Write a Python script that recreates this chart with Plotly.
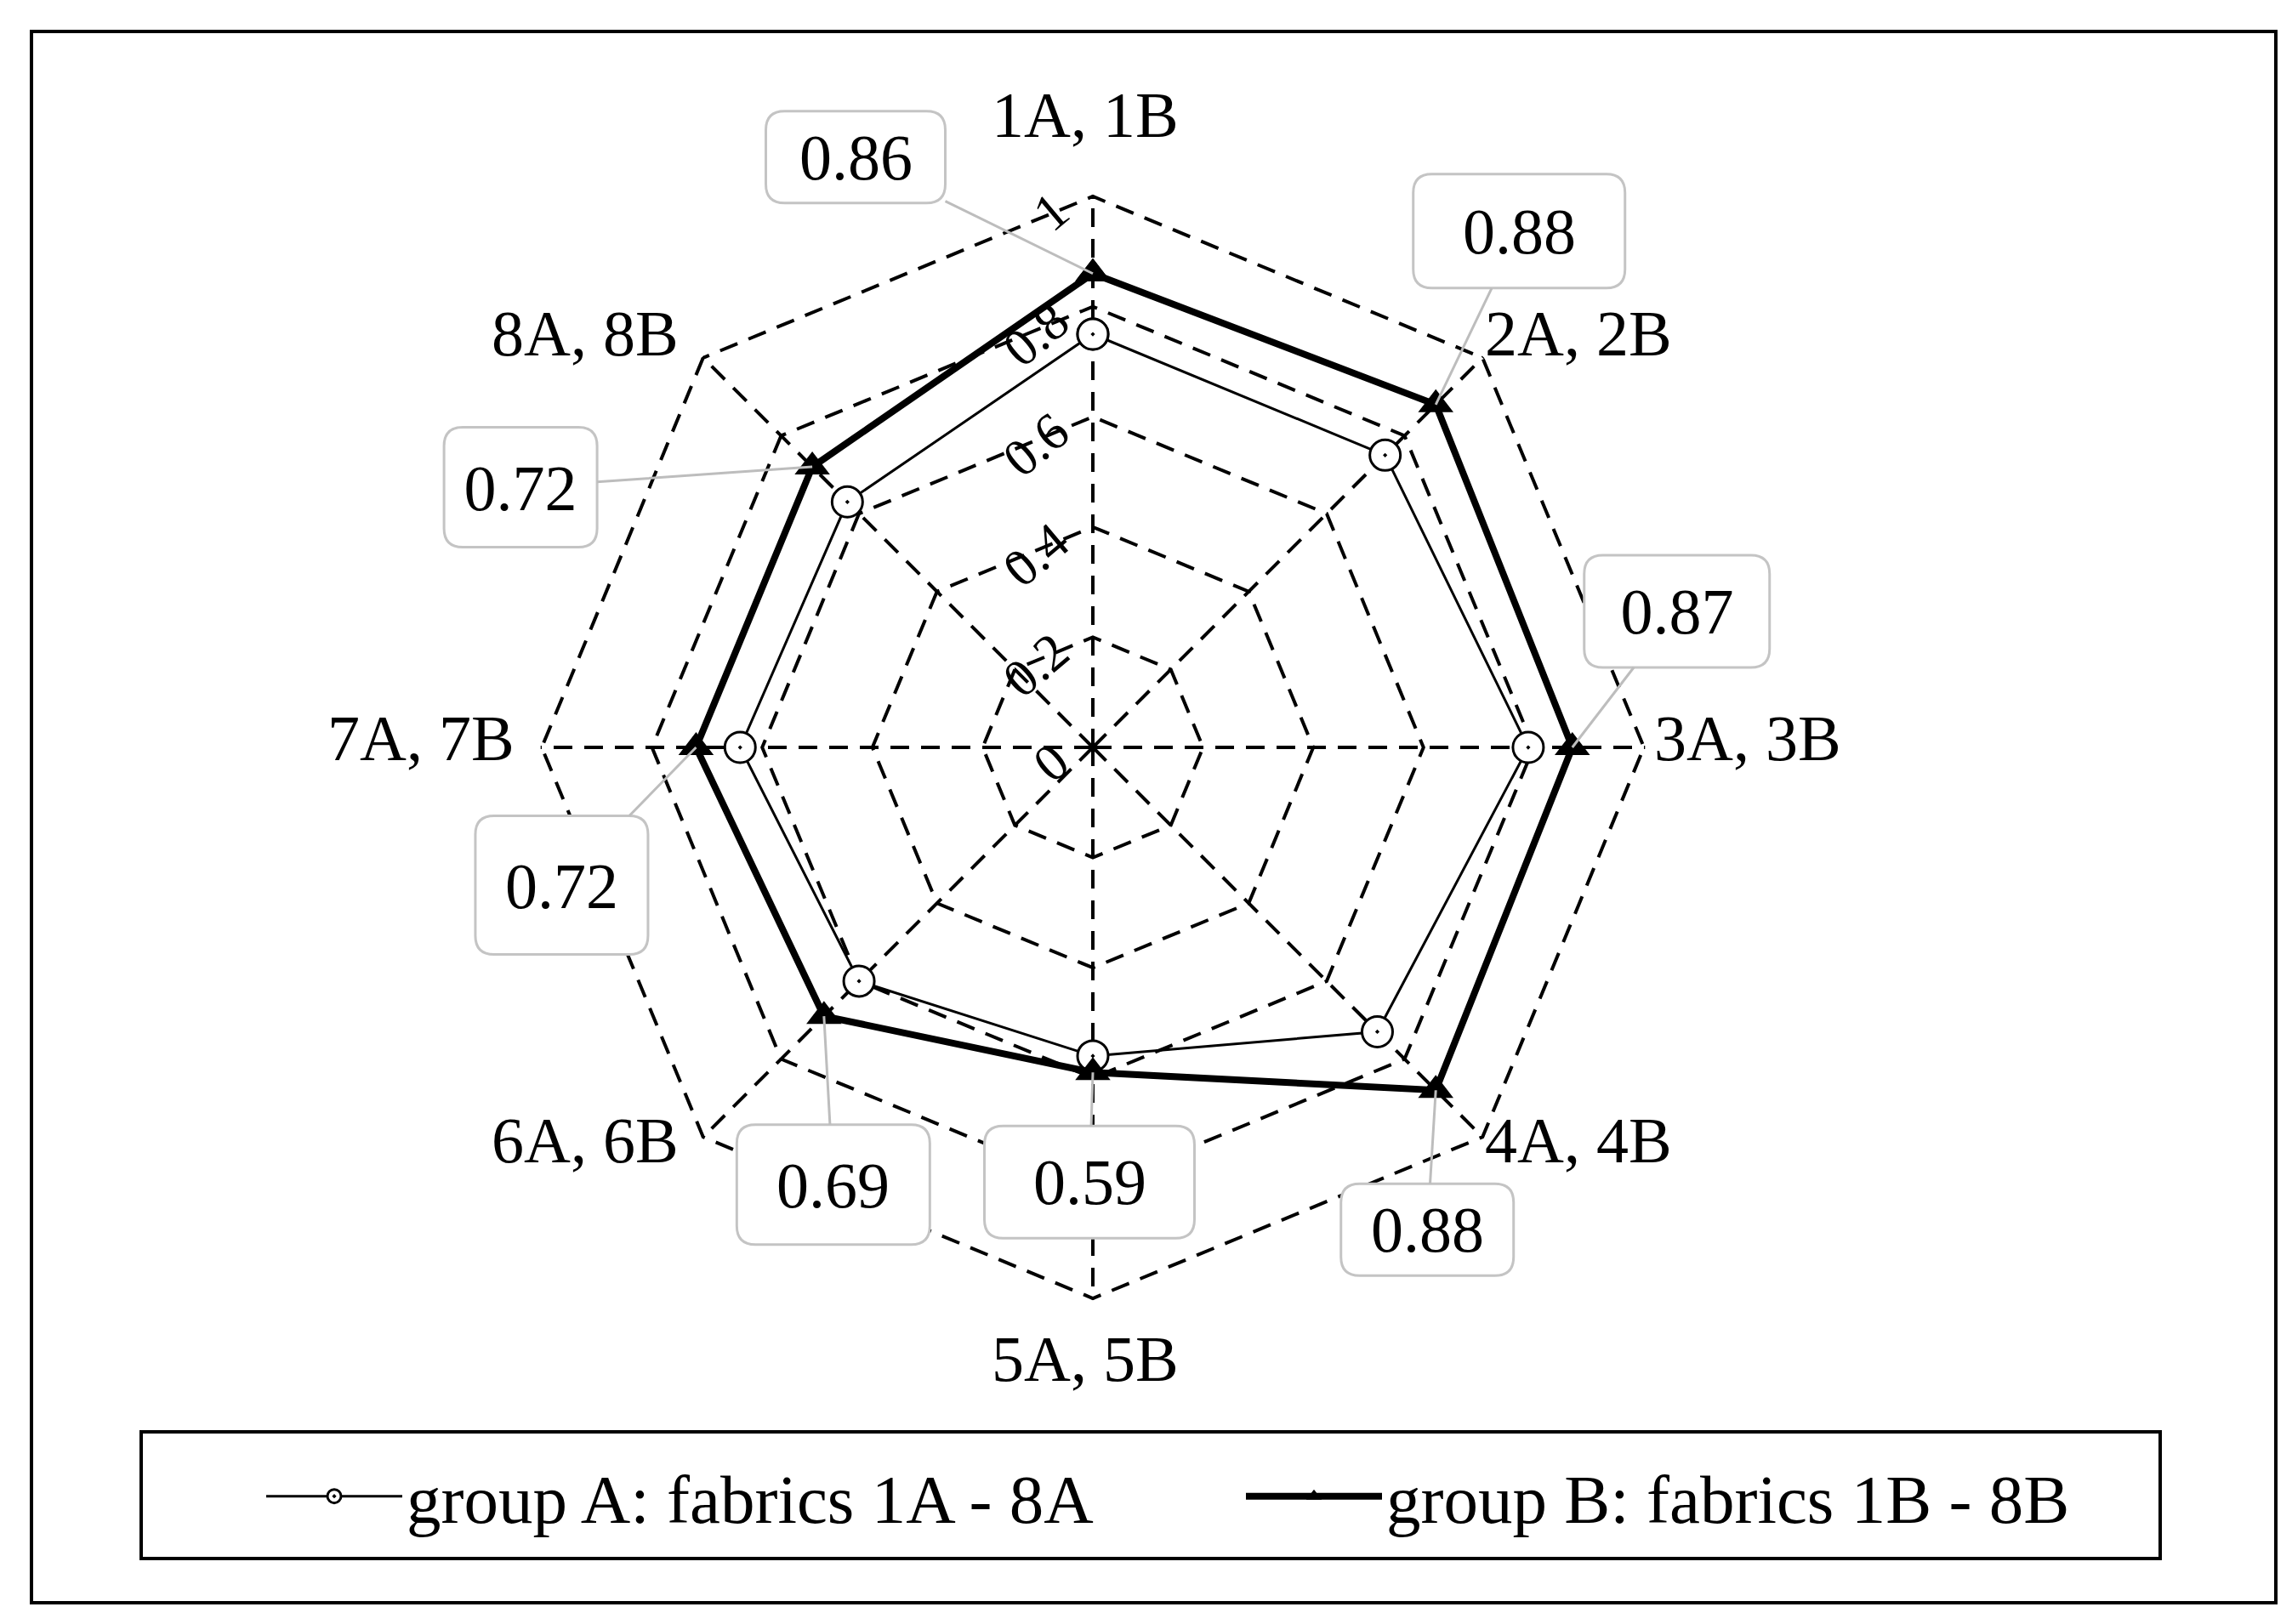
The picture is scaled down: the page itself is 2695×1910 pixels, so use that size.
import math
import plotly.graph_objects as go

# ---- data ----
categories = ["1A, 1B", "2A, 2B", "3A, 3B", "4A, 4B", "5A, 5B", "6A, 6B", "7A, 7B", "8A, 8B"]
group_a = [0.75, 0.75, 0.79, 0.73, 0.56, 0.60, 0.64, 0.63]
group_b = [0.86, 0.88, 0.87, 0.88, 0.59, 0.69, 0.72, 0.72]
label_texts = ["0.86", "0.88", "0.87", "0.88", "0.59", "0.69", "0.72", "0.72"]
radial_ticks = [0, 0.2, 0.4, 0.6, 0.8, 1]
radial_ticktext = ["0", "0.2", "0.4", "0.6", "0.8", "1"]
name_a = "group A: fabrics 1A - 8A"
name_b = "group B: fabrics 1B - 8B"

# ---- styling / layout ----
W, H = 2695, 1910
FONT = "Liberation Serif"
FS = 76
RMAX = 1.002
cx, cy = 1277, 871
R = 648 * RMAX
dom_x = [(cx - R) / W, (cx + R) / W]
dom_y = [(H - cy - R) / H, (H - cy + R) / H]

# category label centres (pixels) around the chart
cat_label_pos = [(1268, 127), (1848, 384), (2047, 860), (1848, 1333),
                 (1268, 1590), (680, 1333), (487, 860), (680, 384)]

# callout boxes: pixel offsets of box centre from point, and box size
callout_offsets = [(-279, -137), (98, -204), (123, -160), (-10, 164),
                   (-4, 129), (11, 198), (-158, 162), (-343, 24)]
callout_sizes = [(211, 108), (249, 134), (218, 132), (203, 108),
                 (247, 132), (227, 141), (203, 163), (180, 141)]
CORNER = 22

fig = go.Figure()
fig.add_trace(go.Scatterpolar(
    r=group_a + group_a[:1], theta=categories + categories[:1],
    mode="lines+markers", name=name_a,
    line=dict(color="black", width=3),
    marker=dict(symbol="circle-dot", size=36, color="white",
                line=dict(color="black", width=3)),
))
fig.add_trace(go.Scatterpolar(
    r=group_b + group_b[:1], theta=categories + categories[:1],
    mode="lines+markers", name=name_b,
    line=dict(color="black", width=8),
    marker=dict(symbol="triangle-up", size=36, color="black"),
))


def rounded_rect_path(x0, y0, x1, y1, rad):
    # pixel coords (y down) -> paper coords path
    def p(x, y):
        return f"{x / W:.5f},{(H - y) / H:.5f}"
    return (f"M {p(x0 + rad, y0)} L {p(x1 - rad, y0)} Q {p(x1, y0)} {p(x1, y0 + rad)} "
            f"L {p(x1, y1 - rad)} Q {p(x1, y1)} {p(x1 - rad, y1)} "
            f"L {p(x0 + rad, y1)} Q {p(x0, y1)} {p(x0, y1 - rad)} "
            f"L {p(x0, y0 + rad)} Q {p(x0, y0)} {p(x0 + rad, y0)} Z")


n = len(categories)
annotations = []
shapes = [
    dict(type="rect", xref="paper", yref="paper",
         x0=29 / W, x1=2668 / W, y0=(H - 1877) / H, y1=(H - 29) / H,
         line=dict(color="black", width=4), layer="below"),
    dict(type="rect", xref="paper", yref="paper",
         x0=158 / W, x1=2532 / W, y0=(H - 1825) / H, y1=(H - 1676) / H,
         line=dict(color="black", width=4), layer="below"),
]

for i, (val, txt) in enumerate(zip(group_b, label_texts)):
    ang = 2 * math.pi * i / n
    x = val * math.sin(ang)
    y = val * math.cos(ang)
    ox, oy = callout_offsets[i]
    bw, bh = callout_sizes[i]
    # point pixel position through the same linear mapping as the overlay axes
    px = cx + x / RMAX * R
    py = cy - y / RMAX * R
    bx, by = px + ox, py + oy
    shapes.append(dict(
        type="path", xref="paper", yref="paper", layer="above",
        path=rounded_rect_path(bx - bw / 2, by - bh / 2, bx + bw / 2, by + bh / 2, CORNER),
        fillcolor="white", line=dict(color="#c4c4c4", width=3),
    ))
    annotations.append(dict(
        x=x, y=y, xref="x", yref="y", ax=ox, ay=oy, axref="pixel", ayref="pixel",
        text=txt, showarrow=True, arrowhead=0, arrowwidth=3, arrowcolor="#bdbdbd",
        standoff=0, startstandoff=0,
        bgcolor="rgba(0,0,0,0)", bordercolor="rgba(0,0,0,0)", borderwidth=0, borderpad=0,
        width=bw, height=bh,
        font=dict(family=FONT, size=FS, color="black"),
    ))

for i, cat in enumerate(categories):
    lx, ly = cat_label_pos[i]
    annotations.append(dict(
        x=lx / W, y=(H - ly) / H, xref="paper", yref="paper",
        text=cat, showarrow=False, xanchor="center", yanchor="middle",
        font=dict(family=FONT, size=FS, color="black"),
    ))

fig.update_layout(
    width=W, height=H,
    margin=dict(l=0, r=0, t=0, b=0),
    paper_bgcolor="white", plot_bgcolor="white",
    font=dict(family=FONT, size=FS, color="black"),
    showlegend=True,
    legend=dict(orientation="h", x=300 / W, xanchor="left", y=158 / H, yanchor="middle",
                entrywidth=977, entrywidthmode="pixels", itemwidth=160,
                font=dict(family=FONT, size=81, color="black"),
                bgcolor="rgba(0,0,0,0)", borderwidth=0),
    polar=dict(
        domain=dict(x=dom_x, y=dom_y),
        gridshape="linear",
        bgcolor="white",
        angularaxis=dict(
            rotation=90, direction="clockwise",
            showline=False, showgrid=True, gridcolor="black", gridwidth=3.5,
            griddash="22px,14px",
            ticks="", showticklabels=False,
        ),
        radialaxis=dict(
            range=[0, RMAX], angle=90, side="counterclockwise",
            tickvals=radial_ticks, ticktext=radial_ticktext, tickangle=50,
            showline=False, showgrid=True, gridcolor="black", gridwidth=3.5,
            griddash="22px,14px",
            ticks="", tickfont=dict(family=FONT, size=62, color="black"),
        ),
    ),
    xaxis=dict(domain=dom_x, range=[-RMAX, RMAX], visible=False, fixedrange=True),
    yaxis=dict(domain=dom_y, range=[-RMAX, RMAX], visible=False, fixedrange=True),
    annotations=annotations,
    shapes=shapes,
)

fig.write_html("out.html")
